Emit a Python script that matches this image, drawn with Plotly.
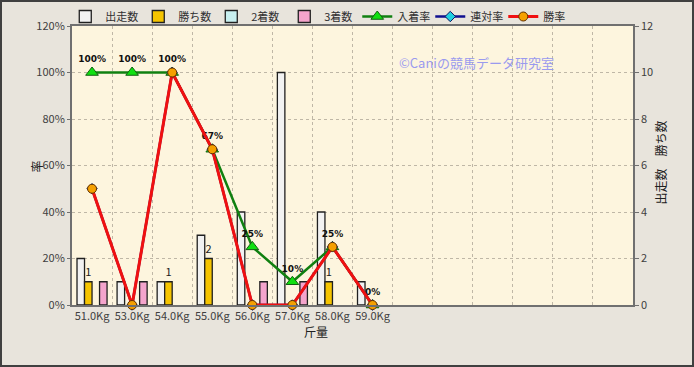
import plotly.graph_objects as go

categories = ["51.0Kg", "53.0Kg", "54.0Kg", "55.0Kg", "56.0Kg", "57.0Kg", "58.0Kg", "59.0Kg"]
n_slots = 14
runs = [2, 1, 1, 3, 4, 10, 4, 1]
wins = [1, 0, 1, 2, 0, 0, 1, 0]
seconds = [0, 0, 0, 0, 0, 0, 0, 0]
thirds = [1, 1, 0, 0, 1, 1, 0, 0]
place_rate = [100, 100, 100, 67, 25, 10, 25, 0]
rentai_rate = [50, 0, 100, 67, 0, 0, 25, 0]
win_rate = [50, 0, 100, 67, 0, 0, 25, 0]
pct_ticks = [0, 20, 40, 60, 80, 100, 120]
count_ticks = [0, 2, 4, 6, 8, 10, 12]

FONT = "Noto Sans CJK JP"
x = list(range(len(categories)))

fig = go.Figure()

bar_specs = [
    ("出走数", runs, "#f2f2f2"),
    ("勝ち数", wins, "#f5c400"),
    ("2着数", seconds, "#c8f0f0"),
    ("3着数", thirds, "#f4a4cc"),
]
for name, vals, col in bar_specs:
    txt = [str(v) if (name == "勝ち数" and v > 0) else "" for v in vals]
    fig.add_trace(go.Bar(
        x=x, y=[v if v else None for v in vals], name=name, yaxis="y",
        marker=dict(color=col, line=dict(color="#202020", width=1.3)),
        text=txt, textposition="outside", constraintext="none",
        textfont=dict(size=11, color="#202020", family=FONT),
        outsidetextfont=dict(size=11, color="#202020", family=FONT),
        cliponaxis=False,
    ))

fig.add_trace(go.Scatter(
    x=x, y=place_rate, name="入着率", yaxis="y2",
    mode="lines+markers+text",
    line=dict(color="#108010", width=2.5),
    marker=dict(symbol="triangle-up", size=11, color="#10e010",
                line=dict(color="#106010", width=1)),
    text=[f"<b>{v}%</b>" for v in place_rate], textposition="top center",
    textfont=dict(size=9, color="#101010", family="DejaVu Sans"),
    cliponaxis=False,
))
fig.add_trace(go.Scatter(
    x=x, y=rentai_rate, name="連対率", yaxis="y2",
    mode="lines+markers",
    line=dict(color="#101090", width=2.5),
    marker=dict(symbol="diamond", size=8, color="#20d0e0",
                line=dict(color="#101060", width=1)),
    cliponaxis=False,
))
fig.add_trace(go.Scatter(
    x=x, y=win_rate, name="勝率", yaxis="y2",
    mode="lines+markers",
    line=dict(color="#f01010", width=3),
    marker=dict(symbol="circle", size=9, color="#f5a000",
                line=dict(color="#603000", width=1)),
    cliponaxis=False,
))

grid_col = "#bfb7a6"
fig.update_layout(
    width=694, height=367,
    margin=dict(l=72, r=61, t=26, b=62, autoexpand=False),
    paper_bgcolor="#e8e4dc",
    plot_bgcolor="#fdf5de",
    font=dict(family=FONT, size=11, color="#404040"),
    barmode="group", bargap=0.25, bargroupgap=0,
    showlegend=True,
    legend=dict(orientation="h", x=-0.012, xanchor="left", y=1.034, yanchor="middle",
                bgcolor="rgba(0,0,0,0)", font=dict(size=11, color="#303030"),
                entrywidth=28, entrywidthmode="pixels", traceorder="normal",
                itemwidth=30),
    xaxis=dict(
        range=[-0.5, n_slots - 0.5], tickvals=x, ticktext=categories,
        showgrid=False, showline=True, mirror=True, linecolor="#707070", linewidth=1.5,
        ticks="", tickfont=dict(size=11, color="#404040"),
        minor=dict(tickvals=[i + 0.5 for i in range(n_slots - 1)], showgrid=True,
                   gridcolor=grid_col, griddash="dot", gridwidth=1, ticks=""),
        zeroline=False,
    ),
    yaxis=dict(
        side="right", range=[0, 12], tickmode="array", tickvals=count_ticks,
        ticktext=[str(v) for v in count_ticks],
        showgrid=True, gridcolor=grid_col, griddash="dot", gridwidth=1,
        showline=True, mirror=True, linecolor="#707070", linewidth=1.5,
        ticks="outside", ticklen=4, tickcolor="#707070",
        tickfont=dict(size=11, color="#404040"), zeroline=False,
    ),
    yaxis2=dict(
        side="left", overlaying="y", range=[0, 120], tickmode="array",
        tickvals=pct_ticks, ticktext=[f"{v}%" for v in pct_ticks], showgrid=False,
        ticks="outside", ticklen=4, tickcolor="#707070",
        tickfont=dict(size=11, color="#404040"), zeroline=False,
    ),
    annotations=[
        dict(text="率", xref="paper", yref="paper", x=-47 / 561, y=(305 - 166) / 279,
             showarrow=False, textangle=-90, font=dict(size=12, color="#202020")),
        dict(text="出走数　勝ち数", xref="paper", yref="paper", x=1 + 37 / 561,
             y=(305 - 163) / 279, showarrow=False, textangle=-90,
             font=dict(size=12, color="#202020")),
        dict(text="斤量", xref="paper", yref="paper", x=(316 - 72) / 561,
             y=(305 - 342) / 279, showarrow=False, font=dict(size=12, color="#202020")),
        dict(text="©Caniの競馬データ研究室", xref="paper", yref="paper",
             x=(397 - 72) / 561, xanchor="left", y=(305 - 51) / 279,
             showarrow=False, font=dict(size=13, color="#9a9aee")),
    ],
    shapes=[
        dict(type="rect", xref="paper", yref="paper",
             x0=-71 / 561, x1=1 + 60 / 561, y0=-61 / 279, y1=1 + 25 / 279,
             line=dict(color="#404040", width=2), fillcolor="rgba(0,0,0,0)", layer="below"),
    ],
)

fig.write_html("out.html")
